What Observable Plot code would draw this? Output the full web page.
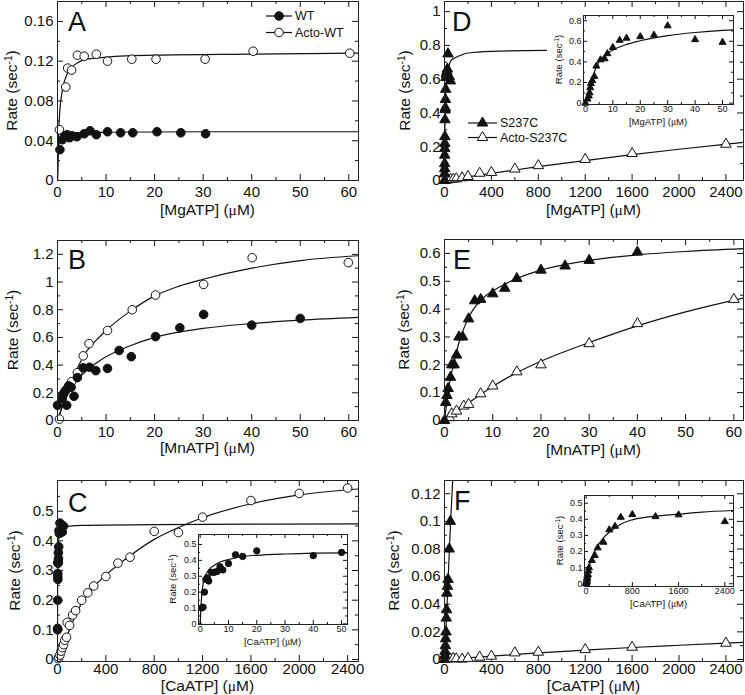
<!DOCTYPE html>
<html><head><meta charset="utf-8">
<script src="https://cdn.jsdelivr.net/npm/d3@7"></script>
<script src="https://cdn.jsdelivr.net/npm/@observablehq/plot@0.6"></script>
<style>
body{margin:0;background:#fff;}
#root{position:relative;width:745px;height:695px;overflow:hidden;font-family:"Liberation Sans",Arial,sans-serif;color:#111;}
#root svg{position:absolute;overflow:visible;}
</style></head><body><div id="root"></div>
<script>
// ---------- Panel A : MgATP, WT / Acto-WT ----------
const A_wt_x = [0.5, 1, 1.5, 2, 2.5, 3, 4, 5.5, 6.7, 8, 10.3, 13, 15.5, 20.5, 25.4, 30.5];
const A_wt_y = [0.031, 0.041, 0.045, 0.046, 0.043, 0.045, 0.044, 0.047, 0.050, 0.046, 0.049, 0.048, 0.048, 0.049, 0.048, 0.047];
const A_acto_x = [0.4, 1.7, 2.1, 2.9, 4.1, 5.5, 8, 10.3, 15.3, 20.3, 30.4, 40.3, 60.2];
const A_acto_y = [0.051, 0.094, 0.113, 0.111, 0.126, 0.125, 0.127, 0.120, 0.122, 0.122, 0.122, 0.130, 0.128];
const A_wtfit_x = [0, 0.1, 0.25, 0.5, 1, 2, 4, 10, 30, 62];
const A_wtfit_y = [0, 0.022, 0.034, 0.041, 0.045, 0.047, 0.048, 0.0485, 0.049, 0.049];
const A_actofit_x = [0, 0.25, 0.5, 1, 1.5, 2, 3, 4, 6, 10, 20, 40, 62];
const A_actofit_y = [0, 0.05, 0.071, 0.091, 0.101, 0.107, 0.114, 0.118, 0.122, 0.124, 0.126, 0.127, 0.128];

// ---------- Panel B : MnATP ----------
const B_wt_x = [0, 1, 1.2, 1.5, 1.9, 2.3, 2.8, 3.4, 4.1, 5.3, 6.6, 7.9, 10.3, 12.7, 15.2, 20.2, 25.2, 30.1, 40, 50];
const B_wt_y = [0.11, 0.16, 0.19, 0.21, 0.11, 0.25, 0.24, 0.175, 0.31, 0.38, 0.385, 0.36, 0.376, 0.506, 0.461, 0.606, 0.67, 0.766, 0.689, 0.737];
const B_acto_x = [0.4, 1, 2, 2.9, 4.1, 5.3, 6.5, 10.3, 15.4, 20.2, 30.1, 40.1, 59.9];
const B_acto_y = [0.01, 0.18, 0.23, 0.28, 0.345, 0.467, 0.555, 0.65, 0.80, 0.906, 0.983, 1.176, 1.14];
const B_wtfit_x = [0, 1, 2, 3, 4, 6, 8, 10, 15, 20, 30, 40, 50, 62];
const B_wtfit_y = [0, 0.1, 0.18, 0.24, 0.29, 0.36, 0.415, 0.46, 0.54, 0.6, 0.665, 0.7, 0.725, 0.745];
const B_actofit_x = [0, 1, 2, 3, 4, 5, 6, 8, 10, 15, 20, 25, 30, 40, 50, 62];
const B_actofit_y = [0, 0.1, 0.2, 0.29, 0.37, 0.44, 0.5, 0.58, 0.65, 0.79, 0.9, 0.97, 1.02, 1.1, 1.155, 1.19];

// ---------- Panel C : CaATP ----------
const C_wt_x = [0.5, 1, 1.5, 2, 2.5, 3, 4, 5, 6, 7, 8, 10, 12.5, 15, 20, 40, 50];
const C_wt_y = [0.10, 0.105, 0.20, 0.28, 0.29, 0.27, 0.325, 0.325, 0.33, 0.36, 0.34, 0.38, 0.435, 0.425, 0.46, 0.43, 0.45];
const C_acto_x = [5, 10, 20, 30, 40, 50, 60, 75, 80, 100, 125, 150, 200, 250, 300, 400, 500, 600, 800, 1000, 1200, 1600, 2000, 2400];
const C_acto_y = [0.003, 0.008, 0.015, 0.028, 0.04, 0.05, 0.065, 0.075, 0.125, 0.115, 0.15, 0.165, 0.2, 0.225, 0.248, 0.28, 0.325, 0.345, 0.432, 0.428, 0.48, 0.536, 0.56, 0.578];
const C_wtfit_x = [0, 0.25, 0.5, 1, 1.5, 2, 3, 5, 7, 10, 15, 20, 30, 52, 200, 800, 2490];
const C_wtfit_y = [0, 0.1, 0.17, 0.25, 0.29, 0.31, 0.34, 0.37, 0.39, 0.405, 0.425, 0.432, 0.44, 0.447, 0.452, 0.455, 0.457];
const C_actofit_x = [0, 25, 50, 100, 150, 200, 300, 400, 600, 800, 1000, 1200, 1600, 2000, 2490];
const C_actofit_y = [0, 0.02, 0.05, 0.1, 0.15, 0.19, 0.245, 0.285, 0.35, 0.405, 0.445, 0.478, 0.525, 0.555, 0.575];

// ---------- Panel D : MgATP, S237C ----------
const D_s_x = [0, 0.75, 1.25, 1.5, 1.75, 2, 2.5, 3.25, 4, 5.5, 7, 8, 10, 12.5, 15, 20, 25, 30, 40, 50];
const D_s_y = [0, 0.04, 0.07, 0.1, 0.15, 0.19, 0.22, 0.26, 0.36, 0.42, 0.43, 0.48, 0.54, 0.61, 0.63, 0.645, 0.66, 0.75, 0.616, 0.59];
const D_sfit_x = [0, 1, 2, 3, 4, 5, 7.5, 10, 15, 20, 30, 40, 50, 54, 100, 150, 200, 400, 870];
const D_sfit_y = [0, 0.08, 0.19, 0.28, 0.35, 0.405, 0.47, 0.515, 0.57, 0.605, 0.655, 0.685, 0.705, 0.71, 0.73, 0.745, 0.755, 0.765, 0.77];
const D_a_x = [10, 25, 50, 75, 100, 150, 200, 300, 400, 600, 800, 1200, 1600, 2400];
const D_a_y = [0.002, 0.004, 0.006, 0.008, 0.01, 0.016, 0.024, 0.043, 0.048, 0.068, 0.088, 0.125, 0.16, 0.215];
const D_afit_x = [0, 400, 800, 1200, 1600, 2000, 2400, 2550];
const D_afit_y = [0, 0.042, 0.082, 0.118, 0.153, 0.185, 0.215, 0.226];

// ---------- Panel E : MnATP, S237C ----------
const E_s_x = [0, 0.25, 0.5, 0.75, 1.25, 1.5, 2, 2.5, 3, 3.75, 5, 6.25, 7.5, 10, 12.5, 15, 20, 25, 30, 40];
const E_s_y = [0, 0.065, 0.09, 0.115, 0.155, 0.2, 0.2, 0.235, 0.3, 0.3, 0.365, 0.43, 0.435, 0.455, 0.475, 0.51, 0.54, 0.555, 0.575, 0.605];
const E_sfit_x = [0, 0.5, 1, 2, 3, 4, 5, 6, 8, 10, 15, 20, 30, 40, 50, 62];
const E_sfit_y = [0, 0.07, 0.13, 0.21, 0.28, 0.33, 0.37, 0.4, 0.44, 0.465, 0.51, 0.54, 0.575, 0.595, 0.607, 0.617];
const E_a_x = [1, 1.5, 2.5, 4, 5, 7.5, 10, 15, 20, 30, 40, 60];
const E_a_y = [0.01, 0.024, 0.034, 0.052, 0.058, 0.096, 0.124, 0.175, 0.2, 0.276, 0.348, 0.435];
const E_afit_x = [0, 5, 10, 15, 20, 30, 40, 50, 62];
const E_afit_y = [0, 0.063, 0.122, 0.172, 0.213, 0.28, 0.34, 0.39, 0.44];

// ---------- Panel F : CaATP, S237C ----------
const F_s_x = [0, 2.5, 5, 7.5, 10, 12.5, 15, 17.5, 20, 25, 30, 40, 50, 100, 150, 200, 300, 400, 500, 600, 800, 1200, 1600, 2400];
const F_s_y = [0, 0.003, 0.006, 0.01, 0.015, 0.02, 0.03, 0.036, 0.048, 0.053, 0.058, 0.08, 0.1, 0.145, 0.176, 0.223, 0.258, 0.335, 0.357, 0.413, 0.43, 0.417, 0.428, 0.386];
const F_sfit_x = [0, 10, 20, 30, 40, 50, 70, 100, 200, 300, 400, 600, 800, 1200, 1600, 2000, 2550];
const F_sfit_y = [0, 0.018, 0.037, 0.056, 0.076, 0.096, 0.13, 0.165, 0.235, 0.285, 0.32, 0.37, 0.397, 0.42, 0.432, 0.445, 0.455];
const F_a_x = [25, 50, 75, 100, 150, 200, 300, 400, 600, 800, 1200, 1600, 2400];
const F_a_y = [0.0005, 0.0005, 0.0008, 0.0005, 0.0003, 0.0008, 0.0017, 0.0024, 0.0048, 0.0053, 0.0072, 0.0089, 0.0118];
const F_afit_x = [0, 400, 800, 1200, 1600, 2000, 2550];
const F_afit_y = [0, 0.0025, 0.0048, 0.0068, 0.0087, 0.0103, 0.0124];

// ---------- tick values ----------
const T60 = [0, 10, 20, 30, 40, 50, 60], T60m = [5, 15, 25, 35, 45, 55];
const T2400 = [0, 400, 800, 1200, 1600, 2000, 2400], T2400m = [200, 600, 1000, 1400, 1800, 2200];
const A_yt = [0, 0.04, 0.08, 0.12, 0.16], A_ym = [0.02, 0.06, 0.1, 0.14];
const B_yt = [0, 0.2, 0.4, 0.6, 0.8, 1, 1.2], B_ym = [0.1, 0.3, 0.5, 0.7, 0.9, 1.1];
const C_yt = [0, 0.1, 0.2, 0.3, 0.4, 0.5], C_ym = [0.05, 0.15, 0.25, 0.35, 0.45, 0.55];
const D_yt = [0, 0.2, 0.4, 0.6, 0.8, 1], D_ym = [0.1, 0.3, 0.5, 0.7, 0.9];
const E_yt = [0, 0.1, 0.2, 0.3, 0.4, 0.5, 0.6], E_ym = [0.05, 0.15, 0.25, 0.35, 0.45, 0.55];
const F_yt = [0, 0.02, 0.04, 0.06, 0.08, 0.1, 0.12], F_ym = [0.01, 0.03, 0.05, 0.07, 0.09, 0.11];
const I50 = [0, 10, 20, 30, 40, 50], I50m = [5, 15, 25, 35, 45];
const Di_yt = [0, 0.2, 0.4, 0.6, 0.8], Di_ym = [0.1, 0.3, 0.5, 0.7];
const I5_yt = [0, 0.1, 0.2, 0.3, 0.4, 0.5], I5_ym = [0.05, 0.15, 0.25, 0.35, 0.45];
const Fi_xt = [0, 800, 1600, 2400], Fi_xm = [400, 1200, 2000];

// ---------- helpers ----------
const INK = "#111";
const root = document.getElementById("root");
const pts = (xs, ys) => xs.map((x, i) => ({x, y: ys[i]}));
const fit = (xs, ys) => Plot.line(pts(xs, ys), {x: "x", y: "y", curve: "monotone-x", stroke: INK, strokeWidth: 1.2, clip: true});
const dots = (xs, ys, symbol, filled, r, extra = {}) =>
  Plot.dot(pts(xs, ys), {x: "x", y: "y", symbol, r, fill: filled ? INK : "white", stroke: INK, strokeWidth: 1, ...extra});

function panel(c) {
  const fw = c.fx1 - c.fx0, fh = c.fy1 - c.fy0;
  const L = c.tick, Lm = c.minor;
  const fmt = d => String(d);
  const marks = [];
  if (c.inset) marks.push(Plot.frame({fill: "white", stroke: "none"}));
  marks.push(
    Plot.tickY(c.yt, {y: d => d, insetRight: fw - L, stroke: INK}),
    Plot.tickY(c.yt, {y: d => d, insetLeft: fw - L, stroke: INK}),
    Plot.tickY(c.ym, {y: d => d, insetRight: fw - Lm, stroke: INK}),
    Plot.tickY(c.ym, {y: d => d, insetLeft: fw - Lm, stroke: INK}),
    Plot.tickX(c.xt, {x: d => d, insetTop: fh - L, stroke: INK}),
    Plot.tickX(c.xt, {x: d => d, insetBottom: fh - L, stroke: INK}),
    Plot.tickX(c.xm, {x: d => d, insetTop: fh - Lm, stroke: INK}),
    Plot.tickX(c.xm, {x: d => d, insetBottom: fh - Lm, stroke: INK}),
    Plot.axisY(c.yt, {anchor: "left", tickSize: 0, tickPadding: c.padY, tickFormat: fmt, label: null}),
    Plot.axisX(c.xt, {anchor: "bottom", tickSize: 0, tickPadding: c.padX, tickFormat: fmt, label: null}),
    ...c.marks,
    Plot.frame({stroke: "#222", strokeWidth: 1})
  );
  const svg = Plot.plot({
    width: c.mL + fw + c.mR, height: c.mT + fh + c.mB,
    marginLeft: c.mL, marginRight: c.mR, marginTop: c.mT, marginBottom: c.mB,
    x: {domain: c.xd}, y: {domain: c.yd},
    style: {fontFamily: "'Liberation Sans', Arial, sans-serif", fontSize: c.fs + "px", background: "none", color: INK, overflow: "visible"},
    marks
  });
  svg.style.left = (c.fx0 - c.mL) + "px";
  svg.style.top = (c.fy0 - c.mT) + "px";
  root.appendChild(svg);
  const s = d3.select(svg);
  // y axis title
  const yl = s.append("text")
    .attr("transform", `translate(${c.mL + c.ylx},${c.mT + fh / 2}) rotate(-90)`)
    .attr("text-anchor", "middle").attr("dy", "0.35em")
    .attr("fill", INK).style("font-size", c.lfs + "px");
  yl.append("tspan").text("Rate (sec");
  yl.append("tspan").attr("dy", -c.lfs * 0.38).style("font-size", (c.lfs * 0.66) + "px").text("-1");
  yl.append("tspan").attr("dy", c.lfs * 0.38).text(")");
  // x axis title
  const xl = s.append("text")
    .attr("x", c.mL + fw / 2).attr("y", c.mT + fh + c.xly)
    .attr("text-anchor", "middle").attr("dy", "0.35em")
    .attr("fill", INK).style("font-size", c.lfs + "px");
  xl.append("tspan").text(`[${c.ion}ATP] (`);
  xl.append("tspan").style("font-family", "'Liberation Serif', serif").text("\u03bc");
  xl.append("tspan").text("M)");
  if (c.letter) {
    s.append("text").attr("x", c.mL + c.lx).attr("y", c.mT + c.ly)
      .attr("text-anchor", "start")
      .attr("fill", INK).style("font-size", "27px").text(c.letter);
  }
  return {svg: s, ox: c.fx0 - c.mL, oy: c.fy0 - c.mT};
}

const big = {tick: 6, minor: 3, fs: 15, lfs: 15.5, padY: 4};
const small = {tick: 4, minor: 2, fs: 9, lfs: 9.5, padY: 2, inset: true};
const cr = 4.3, tr = 3.9, icr = 3.2, itr = 2.6;

// ---- A ----
const pA = panel({...big, fx0: 57, fx1: 358, fy0: 1, fy1: 180, mL: 57, mR: 12, mT: 1, mB: 40,
  xd: [0, 62], yd: [0, 0.18], xt: T60, xm: T60m, yt: A_yt, ym: A_ym, padX: 6,
  ylx: -45, xly: 30, ion: "Mg", letter: "A", lx: 11, ly: 30,
  marks: [fit(A_wtfit_x, A_wtfit_y), fit(A_actofit_x, A_actofit_y),
    dots(A_acto_x, A_acto_y, "circle", false, cr), dots(A_wt_x, A_wt_y, "circle", true, cr)]});

// ---- B ----
panel({...big, fx0: 57, fx1: 358, fy0: 240, fy1: 420, mL: 57, mR: 12, mT: 20, mB: 40,
  xd: [0, 62], yd: [0, 1.3], xt: T60, xm: T60m, yt: B_yt, ym: B_ym, padX: 6,
  ylx: -44, xly: 28, ion: "Mn", letter: "B", lx: 11, ly: 29,
  marks: [fit(B_wtfit_x, B_wtfit_y), fit(B_actofit_x, B_actofit_y),
    dots(B_acto_x, B_acto_y, "circle", false, cr), dots(B_wt_x, B_wt_y, "circle", true, cr)]});

// ---- C ----
panel({...big, fx0: 57, fx1: 358, fy0: 480, fy1: 661, mL: 57, mR: 12, mT: 20, mB: 34,
  xd: [0, 2490], yd: [-0.0067, 0.6035], xt: T2400, xm: T2400m, yt: C_yt, ym: C_ym, padX: 2,
  ylx: -42, xly: 25, ion: "Ca", letter: "C", lx: 11, ly: 32,
  marks: [fit(C_wtfit_x, C_wtfit_y), fit(C_actofit_x, C_actofit_y),
    dots(C_acto_x, C_acto_y, "circle", false, cr), dots(C_wt_x, C_wt_y, "circle", true, cr)]});

// ---- D ----
const pD = panel({...big, fx0: 444, fx1: 743, fy0: 1, fy1: 180, mL: 72, mR: 2, mT: 1, mB: 40,
  xd: [0, 2550], yd: [0, 1.06], xt: T2400, xm: T2400m, yt: D_yt, ym: D_ym, padX: 6,
  ylx: -39, xly: 30, ion: "Mg", letter: "D", lx: 8, ly: 30,
  marks: [fit(D_sfit_x, D_sfit_y), fit(D_afit_x, D_afit_y),
    dots(D_a_x, D_a_y, "triangle", false, tr), dots(D_s_x, D_s_y, "triangle", true, tr)]});

// ---- E ----
panel({...big, fx0: 444, fx1: 743, fy0: 239, fy1: 420, mL: 72, mR: 2, mT: 19, mB: 40,
  xd: [0, 62], yd: [0, 0.65], xt: T60, xm: T60m, yt: E_yt, ym: E_ym, padX: 6,
  ylx: -40, xly: 30, ion: "Mn", letter: "E", lx: 9, ly: 30,
  marks: [fit(E_sfit_x, E_sfit_y), fit(E_afit_x, E_afit_y),
    dots(E_a_x, E_a_y, "triangle", false, tr), dots(E_s_x, E_s_y, "triangle", true, tr)]});

// ---- F ----
panel({...big, fx0: 444, fx1: 743, fy0: 480, fy1: 661, mL: 72, mR: 2, mT: 20, mB: 34,
  xd: [0, 2550], yd: [-0.00145, 0.1296], xt: T2400, xm: T2400m, yt: F_yt, ym: F_ym, padX: 2,
  ylx: -50, xly: 25, ion: "Ca", letter: "F", lx: 10, ly: 30,
  marks: [fit(F_sfit_x, F_sfit_y), fit(F_afit_x, F_afit_y),
    dots(F_a_x, F_a_y, "triangle", false, tr),
    dots(F_s_x, F_s_y, "triangle", true, tr, {filter: d => d.y <= 0.13})]});

// ---- insets ----
panel({...small, fx0: 583, fx1: 733, fy0: 15, fy1: 104, mL: 40, mR: 4, mT: 4, mB: 26,
  xd: [-0.7, 54], yd: [-0.013, 0.85], xt: I50, xm: I50m, yt: Di_yt, ym: Di_ym, padX: 1,
  ylx: -24, xly: 17.5, ion: "Mg",
  marks: [fit(D_sfit_x, D_sfit_y), dots(D_s_x, D_s_y, "triangle", true, itr)]});

panel({...small, fx0: 198, fx1: 347, fy0: 534, fy1: 624, mL: 40, mR: 4, mT: 4, mB: 26,
  xd: [-0.6, 52.1], yd: [-0.004, 0.563], xt: I50, xm: I50m, yt: I5_yt, ym: I5_ym, padX: 1,
  ylx: -25, xly: 17.5, ion: "Ca",
  marks: [fit(C_wtfit_x, C_wtfit_y), dots(C_wt_x, C_wt_y, "circle", true, icr)]});

panel({...small, fx0: 584, fx1: 733, fy0: 495, fy1: 586, mL: 40, mR: 4, mT: 4, mB: 26,
  xd: [-28, 2550], yd: [-0.017, 0.548], xt: Fi_xt, xm: Fi_xm, yt: I5_yt, ym: I5_ym, padX: 1,
  ylx: -24, xly: 17.5, ion: "Ca",
  marks: [fit(F_sfit_x, F_sfit_y), dots(F_s_x, F_s_y, "triangle", true, itr)]});

// ---- legends ----
function legendRow(p, x0, x1, y, mark, filled, label, size) {
  const g = p.svg;
  g.append("line").attr("x1", x0 - p.ox).attr("x2", x1 - p.ox).attr("y1", y - p.oy).attr("y2", y - p.oy)
    .attr("stroke", INK).attr("stroke-width", 1.2);
  const cx = (x0 + x1) / 2 - p.ox, cy = y - p.oy;
  if (mark === "circle") {
    g.append("circle").attr("cx", cx).attr("cy", cy).attr("r", size)
      .attr("fill", filled ? INK : "white").attr("stroke", INK);
  } else {
    g.append("path").attr("d", d3.symbol(d3.symbolTriangle, size * size * Math.PI)())
      .attr("transform", `translate(${cx},${cy})`)
      .attr("fill", filled ? INK : "white").attr("stroke", INK);
  }
  g.append("text").attr("x", x1 + 3 - p.ox).attr("y", cy).attr("dy", "0.35em")
    .attr("text-anchor", "start")
    .attr("fill", INK).style("font-size", "12.5px").text(label);
}
legendRow(pA, 266, 292, 16, "circle", true, "WT", cr);
legendRow(pA, 266, 292, 32.5, "circle", false, "Acto-WT", cr);
legendRow(pD, 468, 497, 123, "triangle", true, "S237C", tr);
legendRow(pD, 468, 497, 137.5, "triangle", false, "Acto-S237C", tr);
</script>
</body></html>
